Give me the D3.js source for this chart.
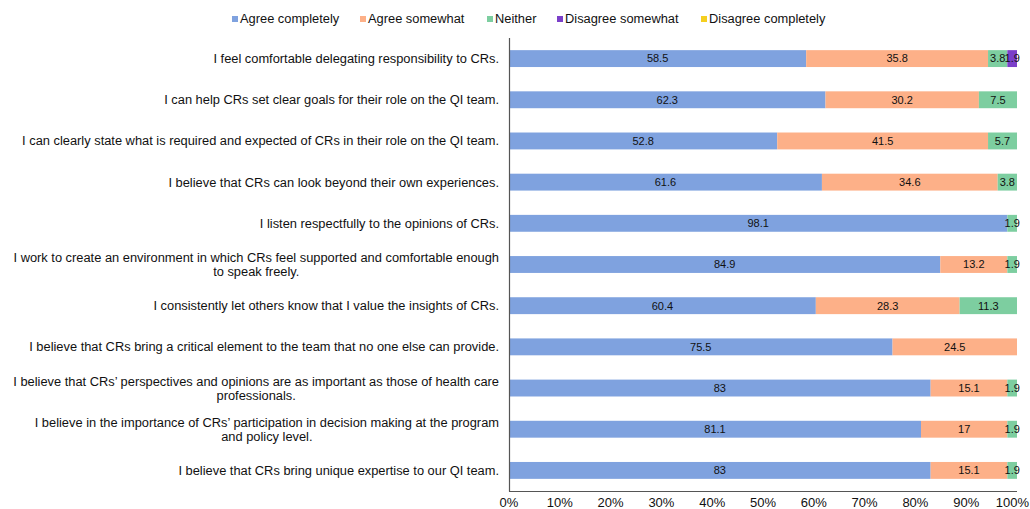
<!DOCTYPE html>
<html><head><meta charset="utf-8">
<script src="https://cdn.jsdelivr.net/npm/d3@7"></script>
<style>body{margin:0;background:#fff}svg{display:block}text{font-family:"Liberation Sans",Arial,sans-serif}</style>
</head><body><svg id="c" width="1030" height="509"></svg>
<script>
const categories = [
 ["I feel comfortable delegating responsibility to CRs."],
 ["I can help CRs set clear goals for their role on the QI team."],
 ["I can clearly state what is required and expected of CRs in their role on the QI team."],
 ["I believe that CRs can look beyond their own experiences."],
 ["I listen respectfully to the opinions of CRs."],
 ["I work to create an environment in which CRs feel supported and comfortable enough","to speak freely."],
 ["I consistently let others know that I value the insights of CRs."],
 ["I believe that CRs bring a critical element to the team that no one else can provide."],
 ["I believe that CRs\u2019 perspectives and opinions are as important as those of health care","professionals."],
 ["I believe in the importance of CRs\u2019 participation in decision making at the program","and policy level."],
 ["I believe that CRs bring unique expertise to our QI team."]
];
const seriesNames = ["Agree completely","Agree somewhat","Neither","Disagree somewhat","Disagree completely"];
const agreeCompletely   = [58.5,62.3,52.8,61.6,98.1,84.9,60.4,75.5,83,81.1,83];
const agreeSomewhat     = [35.8,30.2,41.5,34.6,0,13.2,28.3,24.5,15.1,17,15.1];
const neither           = [3.8,7.5,5.7,3.8,1.9,1.9,11.3,0,1.9,1.9,1.9];
const disagreeSomewhat  = [1.9,0,0,0,0,0,0,0,0,0,0];
const disagreeCompletely= [0,0,0,0,0,0,0,0,0,0,0];
const tickValues = [0,10,20,30,40,50,60,70,80,90,100];
const colors = ["#7fa2df","#fdb088","#7dcea0","#7b3fc9","#f5cf1f"];

const series = [agreeCompletely,agreeSomewhat,neither,disagreeSomewhat,disagreeCompletely];
const svg = d3.select("#c");
const x = d3.scaleLinear().domain([0,100]).range([509,1017]);
const y = d3.scaleBand().domain(d3.range(categories.length)).range([38,491]).paddingInner(0.59).paddingOuter(0.295);

const rows = categories.map((c,i)=>{const o={i}; seriesNames.forEach((s,k)=>o[s]=series[k][i]); return o;});
const stack = d3.stack().keys(seriesNames)(rows);

const g = svg.append("g");
stack.forEach((layer,k)=>{
  g.selectAll(null).data(layer).join("rect")
   .attr("x",d=>x(d[0])).attr("width",d=>Math.max(0,x(d[1])-x(d[0])))
   .attr("y",(d,i)=>y(i)).attr("height",y.bandwidth())
   .attr("fill",colors[k]);
  g.selectAll(null).data(layer.filter(d=>d[1]-d[0]>0)).join("text")
   .attr("x",d=>(x(d[0])+x(d[1]))/2).attr("y",d=>y(d.data.i)+y.bandwidth()/2)
   .attr("dy","0.35em").attr("text-anchor","middle").attr("font-size",11).attr("fill","#111")
   .text(d=>+(d[1]-d[0]).toFixed(1));
});

// axes lines
svg.append("line").attr("x1",509.5).attr("x2",509.5).attr("y1",38).attr("y2",491.5).attr("stroke","#555").attr("stroke-width",1.2);
svg.append("line").attr("x1",509).attr("x2",1017).attr("y1",491.5).attr("y2",491.5).attr("stroke","#555").attr("stroke-width",1.2);

// x tick labels
svg.selectAll(null).data(tickValues).join("text")
  .attr("x",d=>d===100?1029:x(d)).attr("y",507).attr("text-anchor",d=>d===100?"end":"middle").attr("font-size",13).attr("fill","#111")
  .text(d=>d+"%");

// category labels
const fs = 12.85;
categories.forEach((lines,i)=>{
  const cy = y(i)+y.bandwidth()/2;
  if(lines.length===1){
    svg.append("text").attr("x",499).attr("y",cy).attr("dy","0.35em").attr("text-anchor","end")
      .attr("font-size",fs).attr("fill","#111").text(lines[0]);
  } else {
    const t1 = svg.append("text").attr("x",499).attr("y",cy-6.5).attr("dy","0.35em").attr("text-anchor","end")
      .attr("font-size",fs).attr("fill","#111").text(lines[0]);
    const w = t1.node().getComputedTextLength();
    svg.append("text").attr("x",499-w/2).attr("y",cy+7).attr("dy","0.35em").attr("text-anchor","middle")
      .attr("font-size",fs).attr("fill","#111").text(lines[1]);
  }
});

// legend
const legX = [232,360,487,557,701];
const leg = svg.append("g");
seriesNames.forEach((s,k)=>{
  leg.append("rect").attr("x",legX[k]).attr("y",16).attr("width",6).attr("height",6).attr("fill",colors[k]);
  leg.append("text").attr("x",legX[k]+8).attr("y",19).attr("dy","0.35em").attr("font-size",fs).attr("fill","#111").text(s);
});
</script></body></html>
